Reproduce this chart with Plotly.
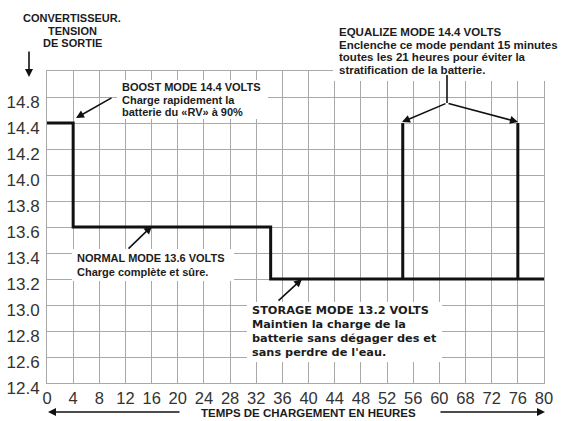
import plotly.graph_objects as go

# ---- data (x in grid units: one grid step = one labelled step) ----
hours = [0, 4, 4, 34.2, 34.2, 54.4, 54.4, 54.4, 72, 72, 72, 76]
volts = [14.4, 14.4, 13.6, 13.6, 13.2, 13.2, 14.4, 13.2, 13.2, 14.4, 13.2, 13.2]

x_grid_pos = [0, 4, 8, 12, 16, 20, 24, 28, 32, 36, 40, 44, 48, 52, 56, 60, 64, 68, 72, 76]
x_tick_labels = ["0", "4", "8", "12", "16", "20", "24", "28", "32", "36", "40",
                 "44", "48", "52", "56", "60", "68", "72", "76", "80"]
y_grid_pos = [12.4, 12.6, 12.8, 13.0, 13.2, 13.4, 13.6, 13.8, 14.0, 14.2, 14.4, 14.6]
y_tick_labels = ["12.4", "12.6", "12.8", "13.0", "13.2", "13.4", "13.6", "13.8",
                 "14.0", "14.2", "14.4", "14.8"]

title_lines = ["CONVERTISSEUR.", "TENSION", "DE SORTIE"]
boost_lines = ["BOOST MODE 14.4 VOLTS", "Charge rapidement la", "batterie du «RV» à 90%"]
normal_lines = ["NORMAL MODE 13.6 VOLTS", "Charge complète et sûre."]
storage_lines = ["STORAGE MODE 13.2 VOLTS", "Maintien la charge de la",
                 "batterie sans dégager des et", "sans perdre de l'eau."]
equal_lines = ["EQUALIZE MODE 14.4 VOLTS", "Enclenche ce mode pendant 15 minutes",
               "toutes les 21 heures pour éviter la", "stratification de la batterie."]
xtitle = "TEMPS DE CHARGEMENT EN HEURES"

# ---- layout geometry ----
W, H = 561, 421
L, R, T, B = 47, 544, 71, 383
X_MAX = 76

def pp(x, y):
    return (x - L) / (R - L), (B - y) / (B - T)

GRID = "#a9a9a9"
TXT = "#1c1c1c"
ARIAL = "Liberation Sans, Arial, sans-serif"
VERD = "DejaVu Sans, Verdana, sans-serif"

fig = go.Figure()
fig.add_trace(go.Scatter(x=hours, y=volts, mode="lines",
                         line=dict(color="#111111", width=3), hoverinfo="skip",
                         showlegend=False))

shapes = []
annotations = []

def white_box(x0, y0, x1, y1):
    a0, b0 = pp(x0, y1)
    a1, b1 = pp(x1, y0)
    shapes.append(dict(type="rect", xref="paper", yref="paper", x0=a0, y0=b0, x1=a1, y1=b1,
                       fillcolor="white", line=dict(width=0), layer="above"))

def text_lines(x, y0, lines, size, step, family=ARIAL, anchor="left"):
    for i, t in enumerate(lines):
        a, b = pp(x, y0 + i * step)
        annotations.append(dict(x=a, y=b, xref="paper", yref="paper", text="<b>%s</b>" % t,
                                showarrow=False, xanchor=anchor, yanchor="middle",
                                font=dict(family=family, size=size, color=TXT)))

def arrow(hx, hy, tx, ty, width=1.6, head=2, size=1.0):
    a, b = pp(hx, hy)
    annotations.append(dict(x=a, y=b, xref="paper", yref="paper", text="", showarrow=True,
                            ax=tx - hx, ay=ty - hy, arrowhead=head, arrowsize=size,
                            arrowwidth=width, arrowcolor="#111111"))

# white backings behind the in-plot notes
white_box(117, 80, 268, 119)
white_box(72, 249, 234, 281)
white_box(247, 302, 442, 362)
white_box(333, 22, 561, 81)

# equalize stem
ja, jb = pp(447, 103)
ta, tb = pp(447, 75)
shapes.append(dict(type="line", xref="paper", yref="paper", x0=ja, y0=jb, x1=ta, y1=tb,
                   line=dict(color="#111111", width=1.6), layer="above"))

text_lines(72, 18, title_lines, 11, 12.5, anchor="center")
arrow(29, 77, 29, 50, width=1.6)

text_lines(120, 87, boost_lines, 11, 12.6)
arrow(76, 118, 113, 97)

text_lines(75, 258, normal_lines, 11, 13.5)
arrow(152, 226, 127, 250)

text_lines(250, 310, storage_lines, 11.3, 14.3, family=VERD)
arrow(302, 279, 277, 302)

text_lines(337, 32, equal_lines, 11.5, 12.7)
arrow(402, 122, 447, 103)
arrow(518, 122, 447, 103)

a, b = pp(308, 413)
annotations.append(dict(x=a, y=b, xref="paper", yref="paper", text="<b>%s</b>" % xtitle,
                        showarrow=False, xanchor="center", yanchor="middle",
                        font=dict(family=ARIAL, size=11.5, color=TXT)))
arrow(48, 412, 181, 412, width=1.6)
arrow(545, 412, 439, 412, width=1.6)

fig.update_layout(
    width=W, height=H,
    margin=dict(l=L, r=W - R, t=T, b=H - B, pad=0, autoexpand=False),
    paper_bgcolor="white", plot_bgcolor="white",
    showlegend=False,
    shapes=shapes, annotations=annotations,
    xaxis=dict(range=[0, X_MAX], tickvals=x_grid_pos, ticktext=x_tick_labels,
               showgrid=True, gridcolor=GRID, gridwidth=1, zeroline=False,
               showline=True, mirror=True, linecolor=GRID, linewidth=1, ticks="",
               ticklabelstandoff=0,
               tickfont=dict(family=ARIAL, size=16.5, color="#333333")),
    yaxis=dict(range=[12.4, 14.8], tickvals=y_grid_pos, ticktext=y_tick_labels,
               showgrid=True, gridcolor=GRID, gridwidth=1, zeroline=False,
               showline=True, mirror=True, linecolor=GRID, linewidth=1, ticks="",
               ticklabelshift=5, ticklabelstandoff=3,
               tickfont=dict(family=ARIAL, size=17, color="#333333")),
)

fig.write_html("out.html", config={"displayModeBar": False},
               post_script="document.body.style.margin='0';document.body.style.padding='0';")
